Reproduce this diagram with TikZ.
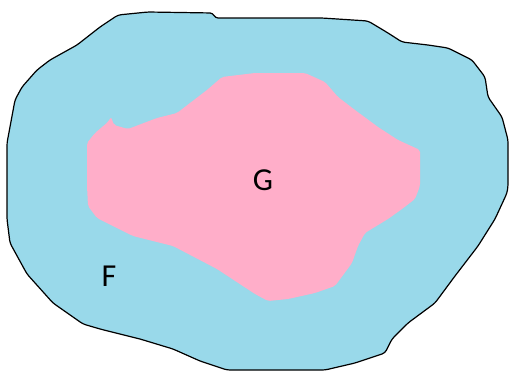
\documentclass[tikz,border=0pt]{standalone}
\usepackage{fontspec}
\setmainfont{Carlito}
\usepackage{tikz}
\usetikzlibrary{positioning}
\definecolor{setblue}{HTML}{99D9EA}
\definecolor{setpink}{HTML}{FFAEC9}

\begin{document}
\begin{tikzpicture}[x=1pt,y=-1pt, line join=round,
  outerset/.style={fill=setblue, draw=black, line width=1.2pt, rounded corners=3pt},
  innerset/.style={fill=setpink, rounded corners=2pt},
  setlabel/.style={inner sep=0pt, font=\fontsize{32}{34}\selectfont}]
\useasboundingbox (0,0) rectangle (510,372);
\draw[outerset] (118,15) -- (148,12) -- (213,13) -- (215,18) -- (322,18) -- (368,21) -- (388,33) -- (402,42) -- (428,45) -- (448,48) -- (472,60) -- (485,77) -- (488,97) -- (502,117) -- (508,140) -- (508,186) -- (507,193) -- (495,219) -- (478,246) -- (455,276) -- (435,303) -- (408,323) -- (392,339) -- (385,353) -- (355,363) -- (325,370) -- (227,370) -- (200,361) -- (173,349) -- (140,339) -- (100,329) -- (83,324) -- (53,303) -- (27,274) -- (10,243) -- (7,219) -- (7,143) -- (15,100) -- (22,87) -- (37,70) -- (50,60) -- (77,45) -- (100,27) -- cycle;
\fill[innerset] (222,77) -- (255,73) -- (305,73) -- (325,82) -- (338,97) -- (355,110) -- (378,127) -- (398,140) -- (420,150) -- (420,186) -- (415,199) -- (402,209) -- (388,219) -- (365,233) -- (358,246) -- (352,263) -- (335,286) -- (315,293) -- (288,299) -- (268,301) -- (255,294) -- (217,269) -- (173,246) -- (133,236) -- (97,218) -- (88,206) -- (87,186) -- (87,143) -- (95,133) -- (108,122) -- (111,117) -- (114,125) -- (128,129) -- (157,118) -- (177,113) -- (190,103) -- (207,90) -- cycle;
\node[setlabel] (g) at (263,180) {G};
\node[setlabel] (f) at (109,276) {F};
\end{tikzpicture}
\end{document}
